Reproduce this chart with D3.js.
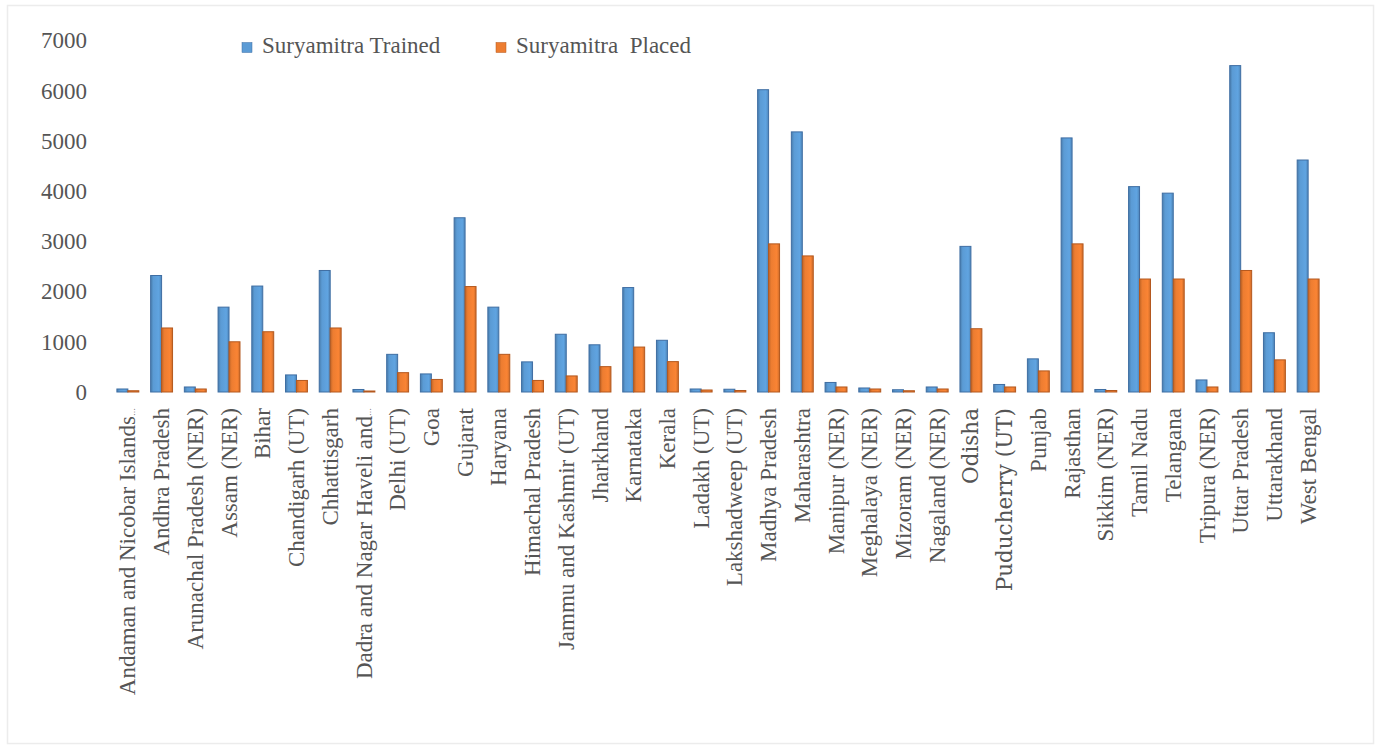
<!DOCTYPE html>
<html>
<head>
<meta charset="utf-8">
<script src="https://cdn.jsdelivr.net/npm/d3@7"></script>
<style>
  html, body { margin: 0; padding: 0; background: #ffffff; }
  svg { display: block; }
</style>
</head>
<body>
<svg id="chart" width="1380" height="749"></svg>
<script>
// States / UTs on the category axis
const states = [
  "Andaman and Nicobar Islands…", "Andhra Pradesh", "Arunachal Pradesh (NER)", "Assam (NER)",
  "Bihar", "Chandigarh (UT)", "Chhattisgarh", "Dadra and Nagar Haveli and…", "Delhi (UT)", "Goa",
  "Gujarat", "Haryana", "Himachal Pradesh", "Jammu and Kashmir (UT)", "Jharkhand", "Karnataka",
  "Kerala", "Ladakh (UT)", "Lakshadweep (UT)", "Madhya Pradesh", "Maharashtra", "Manipur (NER)",
  "Meghalaya (NER)", "Mizoram (NER)", "Nagaland (NER)", "Odisha", "Puducherry (UT)", "Punjab",
  "Rajasthan", "Sikkim (NER)", "Tamil Nadu", "Telangana", "Tripura (NER)", "Uttar Pradesh",
  "Uttarakhand", "West Bengal"
];

// Suryamitra trained per state
const trained = [
  60, 2320, 100, 1690, 2110, 340, 2420, 50, 750, 360,
  3470, 1690, 600, 1150, 940, 2080, 1030, 60, 55, 6020,
  5180, 190, 80, 45, 100, 2900, 150, 660, 5060, 50,
  4090, 3960, 240, 6500, 1180, 4620
];

// Suryamitra placed per state
const placed = [
  25, 1275, 60, 1000, 1200, 230, 1275, 20, 385, 250,
  2100, 750, 230, 320, 505, 895, 605, 40, 30, 2950,
  2710, 100, 60, 25, 60, 1260, 100, 420, 2950, 30,
  2250, 2250, 100, 2420, 640, 2250
];

const seriesNames = ["Suryamitra Trained", "Suryamitra  Placed"];
const yTicks = [0, 1000, 2000, 3000, 4000, 5000, 6000, 7000];

const fills = ["#5B9BD5", "#ED7D31"];
const edges = ["#3F6EA3", "#B4581E"];
const textColor = "#555555";
const serif = '"Liberation Serif", "Times New Roman", serif';
const altSerif = '"DejaVu Serif", serif';

const svg = d3.select("#chart");

// Outer chart frame
svg.append("rect")
  .attr("x", 7.5).attr("y", 5.5)
  .attr("width", 1366).attr("height", 738)
  .attr("fill", "#ffffff")
  .attr("stroke", "#ececec")
  .attr("stroke-width", 1.5);

// Bar shading gradients (darker edges, lighter middle)
const defs = svg.append("defs");
fills.forEach((c, i) => {
  const g = defs.append("linearGradient")
    .attr("id", "grad" + i)
    .attr("x1", "0%").attr("x2", "100%").attr("y1", "0%").attr("y2", "0%");
  const base = d3.color(c);
  g.append("stop").attr("offset", "0%").attr("stop-color", base.darker(0.6));
  g.append("stop").attr("offset", "25%").attr("stop-color", base);
  g.append("stop").attr("offset", "75%").attr("stop-color", base.brighter(0.15));
  g.append("stop").attr("offset", "100%").attr("stop-color", base.darker(0.4));
});

const x = d3.scaleBand()
  .domain(states)
  .range([111, 1325])
  .paddingInner(0.35)
  .paddingOuter(0.175);

const xSub = d3.scaleBand()
  .domain([0, 1])
  .range([0, x.bandwidth()]);

const y = d3.scaleLinear()
  .domain([0, 7000])
  .range([392, 40.5]);

// Y axis labels (no line, no ticks)
const yAxis = d3.axisLeft(y).tickValues(yTicks).tickFormat(d3.format("d")).tickSize(0).tickPadding(0);
const yg = svg.append("g")
  .attr("transform", "translate(87,0)")
  .call(yAxis)
  .attr("font-family", null)
  .attr("font-size", null);
yg.select(".domain").remove();
yg.selectAll("text")
  .style("font-family", serif)
  .style("font-size", "23px")
  .attr("fill", textColor);

// Bars
const series = [trained, placed];
series.forEach((vals, si) => {
  svg.append("g")
    .selectAll("rect")
    .data(states.map((s, i) => ({ s, v: vals[i] })))
    .join("rect")
    .attr("x", d => x(d.s) + xSub(si))
    .attr("y", d => y(d.v))
    .attr("width", xSub.bandwidth())
    .attr("height", d => y(0) - y(d.v))
    .attr("fill", `url(#grad${si})`)
    .attr("stroke", edges[si])
    .attr("stroke-width", 1);
});

// X axis labels, rotated
const special = new Set(["Odisha", "Puducherry (UT)"]);
const xAxis = d3.axisBottom(x).tickSize(0).tickPadding(0);
const xg = svg.append("g")
  .attr("transform", `translate(0,${y(0)})`)
  .call(xAxis)
  .attr("font-family", null)
  .attr("font-size", null);
xg.select(".domain").remove();
xg.selectAll(".tick text")
  .attr("transform", "rotate(-90)")
  .attr("x", -16)
  .attr("y", 0)
  .attr("dy", "0.33em")
  .attr("text-anchor", "end")
  .style("font-family", d => special.has(d) ? altSerif : serif)
  .style("font-size", d => special.has(d) ? "21.5px" : "23px")
  .attr("fill", textColor)
  .each(function (d) {
    // truncated names: draw the ellipsis small, as a compact trailing mark
    if (d.endsWith("…")) {
      const t = d3.select(this).text(null);
      t.append("tspan").text(d.slice(0, -1));
      t.append("tspan").style("font-size", "8px").text("…");
    }
  });

// Legend
const legendX = [242, 496];
const legend = svg.append("g");
seriesNames.forEach((name, i) => {
  legend.append("rect")
    .attr("x", legendX[i]).attr("y", 42.5)
    .attr("width", 10).attr("height", 10)
    .attr("fill", fills[i])
    .attr("stroke", edges[i]).attr("stroke-width", 0.5);
  legend.append("text")
    .attr("x", legendX[i] + 20).attr("y", 52.5)
    .style("font-family", serif)
    .style("font-size", "23px")
    .style("white-space", "pre")
    .attr("fill", textColor)
    .text(name);
});
</script>
</body>
</html>
